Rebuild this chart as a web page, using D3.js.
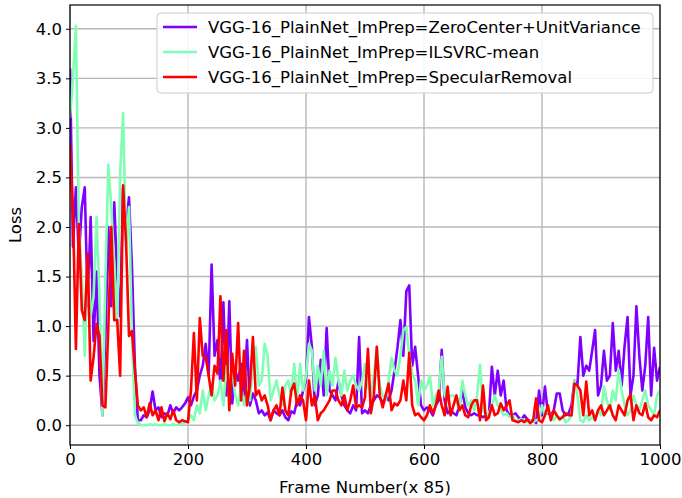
<!DOCTYPE html>
<html>
<head>
<meta charset="utf-8">
<script src="https://cdn.jsdelivr.net/npm/d3@7"></script>
<style>
  body { margin: 0; background: #fff; }
  svg { font-family: "DejaVu Sans", sans-serif; }
</style>
</head>
<body>
<svg width="682" height="498"></svg>
<script>
// frame index (every 5th frame, x 85)
const frames = d3.range(0, 1001, 5);

const zeroCenter = [
  3.6, 1.8, 2.4, 1.7, 2.2, 2.4, 1.2, 2.1, 0.85, 1.55,
  0.5, 0.1, 0.9, 2.0, 1.2, 2.25, 1.5, 1.1, 2.4, 2.0,
  2.3, 1.6, 0.6, 0.05, 0.05, 0.1, 0.08, 0.15, 0.34, 0.15,
  0.18, 0.08, 0.12, 0.1, 0.2, 0.12, 0.18, 0.15, 0.18, 0.22,
  0.28, 0.2, 0.29, 0.35, 0.5, 0.6, 0.82, 0.5, 1.62, 0.7,
  0.86, 0.4, 1.24, 0.3, 1.25, 0.22, 0.55, 0.45, 0.62, 0.3,
  0.86, 0.2, 0.32, 0.25, 0.12, 0.15, 0.1, 0.13, 0.05, 0.15,
  0.12, 0.1, 0.15, 0.08, 0.05, 0.14, 0.12, 0.25, 0.2, 0.35,
  0.45, 1.09, 0.79, 0.2, 0.3, 0.66, 0.3, 0.98, 0.35, 0.3,
  0.25, 0.45, 0.3, 0.2, 0.15, 0.12, 0.2, 0.15, 0.89, 0.12,
  0.15, 0.12, 0.2, 0.25, 0.3, 0.28, 0.22, 0.3, 0.25, 0.35,
  0.55, 0.78, 1.06, 0.7, 1.35, 1.41, 0.6, 0.79, 0.5, 0.2,
  0.15, 0.18, 0.15, 0.1, 0.2, 0.25, 0.76, 0.25, 0.12, 0.15,
  0.12, 0.1, 0.2, 0.35, 0.18, 0.12, 0.1, 0.12, 0.1, 0.1,
  0.08, 0.1, 0.1, 0.59, 0.3, 0.55, 0.3, 0.45, 0.15, 0.1,
  0.1, 0.12, 0.08, 0.05, 0.1, 0.06, 0.04, 0.05, 0.02, 0.35,
  0.1, 0.39, 0.12, 0.1, 0.15, 0.32, 0.32, 0.15, 0.1, 0.12,
  0.2, 0.45, 0.4, 0.89, 0.5, 0.6, 0.55, 0.75, 0.96, 0.3,
  0.4, 0.75, 0.45, 0.5, 1.03, 0.55, 0.75, 0.4, 0.8, 1.09,
  0.3, 0.5, 1.2, 0.7, 0.35, 0.6, 1.09, 0.3, 0.78, 0.45,
  0.59
];

const ilsvrcMean = [
  3.1, 3.5, 4.03, 2.0, 1.5, 0.7, 1.6, 1.1, 1.3, 2.1,
  1.3, 0.1, 1.5, 2.63, 2.2, 1.6, 1.0, 2.55, 3.15, 1.8,
  2.2, 0.9, 0.1, 0.02, 0.0, 0.0, 0.0, 0.01, 0.0, 0.01,
  0.0, 0.0, 0.01, 0.0, 0.0, 0.01, 0.0, 0.01, 0.02, 0.03,
  0.05, 0.1, 0.05, 0.2, 0.12, 0.35, 0.15, 0.3, 0.42, 0.25,
  0.3, 0.45, 0.2, 0.6, 0.35, 0.55, 0.3, 0.2, 0.4, 0.2,
  0.35, 0.25, 0.6, 0.79, 0.4, 0.45, 0.82, 0.7, 0.25, 0.35,
  0.45, 0.3, 0.2, 0.4, 0.45, 0.3, 0.62, 0.25, 0.62, 0.35,
  0.5, 0.82, 0.75, 0.35, 0.6, 0.4, 0.75, 0.3, 0.55, 0.4,
  0.68, 0.45, 0.3, 0.55, 0.35, 0.45, 0.5, 0.4, 0.35, 0.45,
  0.62, 0.4, 0.3, 0.5, 0.79, 0.4, 0.3, 0.25, 0.45, 0.68,
  0.55, 0.5, 0.7, 0.96, 0.99, 0.7, 0.52, 0.45, 0.2, 0.45,
  0.35, 0.4, 0.5, 0.2, 0.3, 0.35, 0.69, 0.3, 0.25, 0.3,
  0.3, 0.25, 0.15, 0.45, 0.3, 0.2, 0.25, 0.15, 0.3, 0.61,
  0.15, 0.1, 0.12, 0.2, 0.3, 0.2, 0.15, 0.1, 0.12, 0.08,
  0.1, 0.05, 0.05, 0.06, 0.05, 0.03, 0.04, 0.03, 0.05, 0.06,
  0.2, 0.1, 0.15, 0.1, 0.05, 0.1, 0.05, 0.1, 0.03, 0.05,
  0.1, 0.45, 0.3, 0.05, 0.03, 0.1, 0.05, 0.08, 0.05, 0.15,
  0.1, 0.39, 0.25, 0.15, 0.35, 0.25, 0.56, 0.35, 0.2, 0.1,
  0.15, 0.3, 0.2, 0.15, 0.25, 0.35, 0.2, 0.15, 0.1, 0.3,
  0.35
];

const specular = [
  2.82, 2.17, 0.77, 2.03, 1.16, 1.06, 1.73, 0.45, 0.69, 1.02,
  0.9, 0.2, 0.18, 1.0, 2.0, 1.06, 1.06, 0.5, 2.42, 1.85,
  0.9, 0.95, 0.55, 0.2, 0.15, 0.18, 0.08, 0.22, 0.1, 0.15,
  0.05, 0.18, 0.04, 0.12, 0.06, 0.15, 0.05, 0.03, 0.05, 0.04,
  0.03, 0.35, 0.93, 0.25, 1.08, 0.7, 0.69, 0.5, 0.3, 0.6,
  0.52, 1.3, 0.45, 0.96, 0.15, 0.72, 0.4, 1.03, 0.25, 0.75,
  0.2, 0.4, 0.89, 0.3, 0.35, 0.25, 0.3, 0.2, 0.05, 0.15,
  0.2, 0.1, 0.38, 0.15, 0.1, 0.35, 0.42, 0.2, 0.3, 0.25,
  0.05, 0.45, 0.2, 0.3, 0.05, 0.12, 0.15, 0.2, 0.25, 0.35,
  0.35, 0.25, 0.2, 0.3, 0.15, 0.25, 0.4, 0.18, 0.2, 0.18,
  0.28, 0.77, 0.12, 0.3, 0.79, 0.3, 0.18, 0.3, 0.42, 0.15,
  0.22, 0.2, 0.25, 0.45, 0.25, 0.73, 0.2, 0.1, 0.12, 0.08,
  0.05, 0.1, 0.2, 0.12, 0.2, 0.35, 0.2, 0.1, 0.39, 0.1,
  0.2, 0.3, 0.15, 0.2, 0.1, 0.08, 0.2, 0.25, 0.25, 0.05,
  0.4, 0.05, 0.08, 0.2, 0.1, 0.12, 0.22, 0.15, 0.2, 0.25,
  0.05, 0.04, 0.03, 0.05, 0.03, 0.06, 0.02, 0.05, 0.27, 0.05,
  0.03, 0.1, 0.2, 0.05, 0.15, 0.1, 0.06, 0.08, 0.12, 0.1,
  0.1, 0.42, 0.4, 0.35, 0.1, 0.44, 0.1, 0.15, 0.05, 0.15,
  0.2, 0.1, 0.15, 0.2, 0.1, 0.05, 0.2, 0.15, 0.1, 0.25,
  0.31, 0.05, 0.2, 0.12, 0.1, 0.22, 0.08, 0.05, 0.1, 0.08,
  0.15
];

const seriesNames = [
  "VGG-16_PlainNet_ImPrep=ZeroCenter+UnitVariance",
  "VGG-16_PlainNet_ImPrep=ILSVRC-mean",
  "VGG-16_PlainNet_ImPrep=SpecularRemoval"
];
const seriesColors = ["#8000ff", "#80ffb4", "#ff0000"];
const xTicks = [0, 200, 400, 600, 800, 1000];
const yTicks = [0, 0.5, 1, 1.5, 2, 2.5, 3, 3.5, 4];

const allSeries = [zeroCenter, ilsvrcMean, specular];

const svg = d3.select("svg");
const pLeft = 70, pRight = 660, pTop = 5, pBottom = 445;
const fontSize = 16.5;

const x = d3.scaleLinear().domain([0, 1000]).range([pLeft, pRight]);
const y = d3.scaleLinear().domain([-0.2, 4.24]).range([pBottom, pTop]);

// grid
svg.append("g")
  .selectAll("line")
  .data(xTicks)
  .join("line")
    .attr("x1", d => x(d)).attr("x2", d => x(d))
    .attr("y1", pTop).attr("y2", pBottom)
    .attr("stroke", "#b8b8b8").attr("stroke-width", 1.4);

svg.append("g")
  .selectAll("line")
  .data(yTicks)
  .join("line")
    .attr("x1", pLeft).attr("x2", pRight)
    .attr("y1", d => y(d)).attr("y2", d => y(d))
    .attr("stroke", "#b8b8b8").attr("stroke-width", 1.4);

// lines
svg.append("clipPath").attr("id", "clip")
  .append("rect").attr("x", pLeft).attr("y", pTop)
  .attr("width", pRight - pLeft).attr("height", pBottom - pTop);

const line = d3.line()
  .x((d, i) => x(frames[i]))
  .y(d => y(d));

svg.append("g")
  .attr("clip-path", "url(#clip)")
  .selectAll("path")
  .data(allSeries)
  .join("path")
    .attr("d", line)
    .attr("fill", "none")
    .attr("stroke", (d, i) => seriesColors[i])
    .attr("stroke-width", 2.6)
    .attr("stroke-linejoin", "round");

// axes
const xAxis = svg.append("g")
  .attr("transform", `translate(0,${pBottom})`)
  .call(d3.axisBottom(x).tickValues(xTicks).tickSize(4).tickPadding(4).tickFormat(d3.format("d")));

const yAxis = svg.append("g")
  .attr("transform", `translate(${pLeft},0)`)
  .call(d3.axisLeft(y).tickValues(yTicks).tickSize(4).tickPadding(4).tickFormat(d3.format(".1f")));

[xAxis, yAxis].forEach(a => {
  a.select(".domain").remove();
  a.selectAll("text").attr("font-size", fontSize).attr("font-family", "DejaVu Sans").attr("fill", "#000");
  a.selectAll("line").attr("stroke", "#000").attr("stroke-width", 1);
});

// frame
svg.append("rect")
  .attr("x", pLeft).attr("y", pTop)
  .attr("width", pRight - pLeft).attr("height", pBottom - pTop)
  .attr("fill", "none").attr("stroke", "#000").attr("stroke-width", 1.2);

svg.append("text")
  .attr("x", (pLeft + pRight) / 2).attr("y", 493)
  .attr("text-anchor", "middle").attr("font-size", fontSize)
  .text("Frame Number(x 85)");

svg.append("text")
  .attr("transform", `translate(21,${(pTop + pBottom) / 2}) rotate(-90)`)
  .attr("text-anchor", "middle").attr("font-size", fontSize)
  .text("Loss");

// legend
const legend = svg.append("g");
legend.append("rect")
  .attr("x", 157).attr("y", 13).attr("width", 496).attr("height", 80)
  .attr("rx", 4)
  .attr("fill", "#fff").attr("fill-opacity", 0.85)
  .attr("stroke", "#cccccc").attr("stroke-width", 1);

const items = legend.selectAll("g")
  .data(seriesNames)
  .join("g")
    .attr("transform", (d, i) => `translate(0,${27 + i * 25})`);

items.append("line")
  .attr("x1", 163).attr("x2", 197)
  .attr("stroke", (d, i) => seriesColors[i])
  .attr("stroke-width", 2.6);

items.append("text")
  .attr("x", 208).attr("y", 6)
  .attr("font-size", fontSize)
  .text(d => d);
</script>
</body>
</html>
